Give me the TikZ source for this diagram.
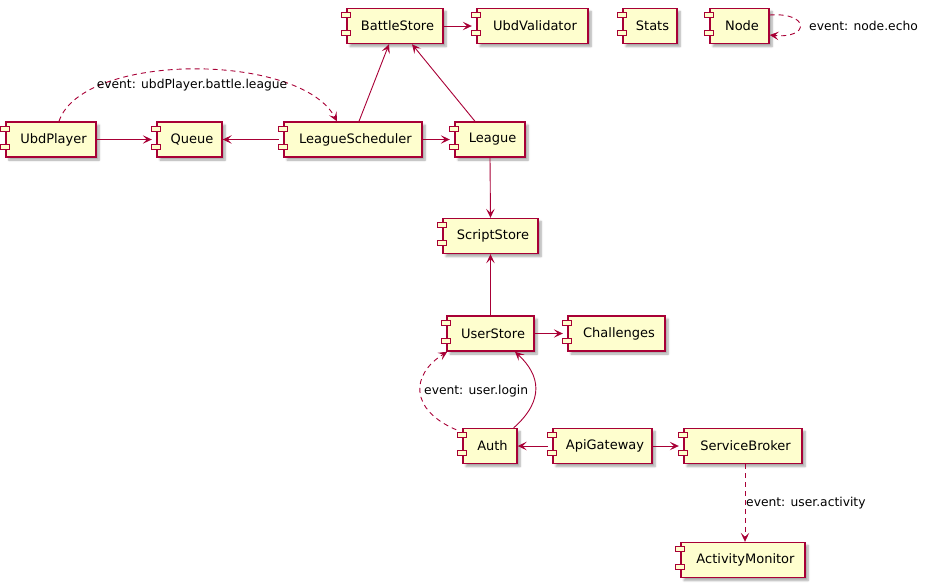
\documentclass[tikz,border=0pt]{standalone}
\usepackage{fontspec}
\setmainfont{DejaVu Sans}
\usetikzlibrary{arrows.meta,shadows.blur}

\definecolor{compfill}{HTML}{FEFECE}
\definecolor{compline}{HTML}{A80036}

\tikzset{
  comp/.style={draw=compline, fill=compfill, line width=1.4pt,
    minimum height=35pt, inner sep=0pt,
    font=\fontsize{13}{15}\selectfont,
    blur shadow={shadow xshift=3pt, shadow yshift=-3pt,
      shadow blur steps=6, shadow blur radius=2pt, shadow opacity=35}},
  iconpart/.style={draw=compline, fill=compfill, line width=1pt},
  conn/.style={draw=compline, line width=0.9pt,
    -{Stealth[length=9pt, width=8.5pt, inset=4pt]}},
  evt/.style={conn, dashed, dash pattern=on 5pt off 4pt},
  lbl/.style={font=\fontsize{12.3}{14}\selectfont, inner sep=1pt}
}

% component box: name, left edge, right edge, centre y, text
\newcommand\umlcomp[5]{%
  \node[comp, minimum width={#3-#2}] (#1) at ({(#2+#3)/2},#4) {\hspace*{5pt}#5};
  \draw[iconpart] ([xshift=-4.5pt,yshift=-5pt]#1.north west) rectangle ++(9,5);
  \draw[iconpart] ([xshift=-4.5pt,yshift=-23pt]#1.north west) rectangle ++(9,5);
}

\begin{document}
\begin{tikzpicture}[x=1pt, y=-1pt]
\useasboundingbox (0,0) rectangle (927,587);

% top row
\umlcomp{BattleStore}{347}{443}{26}{BattleStore}
\umlcomp{UbdValidator}{477}{588}{26}{UbdValidator}
\umlcomp{Stats}{623}{677}{26}{Stats}
\umlcomp{Node}{710}{769}{26}{Node}

% league row
\umlcomp{UbdPlayer}{6}{96}{139.5}{UbdPlayer}
\umlcomp{Queue}{157}{222}{139.5}{Queue}
\umlcomp{LeagueScheduler}{284}{422}{139.5}{LeagueScheduler}
\umlcomp{League}{455}{525}{139.5}{League}

% storage and users
\umlcomp{ScriptStore}{443}{538}{236}{ScriptStore}
\umlcomp{UserStore}{447}{534}{333.5}{UserStore}
\umlcomp{Challenges}{568}{665}{333.5}{Challenges}

% gateway row
\umlcomp{Auth}{463}{517}{446}{Auth}
\umlcomp{ApiGateway}{553}{652}{446}{ApiGateway}
\umlcomp{ServiceBroker}{684}{802}{446}{ServiceBroker}
\umlcomp{ActivityMonitor}{681}{805}{560}{ActivityMonitor}

% connectors
\draw[conn] (BattleStore.east) -- ([xshift=-4.5pt]UbdValidator.west);

\draw[evt] ([yshift=11pt]Node.east) .. controls (810,12) and (810,39) .. ([yshift=-9pt]Node.east);
\node[lbl, anchor=west] (lblEcho) at (808,26) {event: node.echo};

\draw[evt] ([xshift=8pt]UbdPlayer.north) .. controls (82,52) and (300,52) .. ([xshift=-16pt]LeagueScheduler.north);
\node[lbl] (lblLeague) at (192,85) {event: ubdPlayer.battle.league};

\draw[conn] (UbdPlayer.east) -- ([xshift=-4.5pt]Queue.west);
\draw[conn] ([xshift=-4.5pt]LeagueScheduler.west) -- (Queue.east);
\draw[conn] (LeagueScheduler.east) -- ([xshift=-4.5pt]League.west);
\draw[conn] ([xshift=6pt]LeagueScheduler.north) -- ([xshift=-6pt]BattleStore.south);
\draw[conn] ([xshift=-15pt]League.north) -- ([xshift=17pt]BattleStore.south);
\draw[conn] (League.south) -- (ScriptStore.north);
\draw[conn] (UserStore.north) -- (ScriptStore.south);
\draw[conn] (UserStore.east) -- ([xshift=-4.5pt]Challenges.west);

\draw[evt] ([xshift=-6pt,yshift=-2pt]Auth.north west) .. controls (410,410) and (410,375) .. ([xshift=1pt]UserStore.south west);
\node[lbl, anchor=west] (lblLogin) at (423,391) {event: user.login};
\draw[conn] ([xshift=-4pt]Auth.north east) .. controls (545,400) and (540,375) .. ([xshift=24.5pt]UserStore.south);

\draw[conn] ([xshift=-4.5pt]ApiGateway.west) -- (Auth.east);
\draw[conn] (ApiGateway.east) -- ([xshift=-4.5pt]ServiceBroker.west);

\draw[evt] ([xshift=2pt]ServiceBroker.south) -- ([xshift=2pt]ActivityMonitor.north);
\node[lbl, anchor=west] (lblActivity) at (745,503) {event: user.activity};
\end{tikzpicture}
\end{document}
